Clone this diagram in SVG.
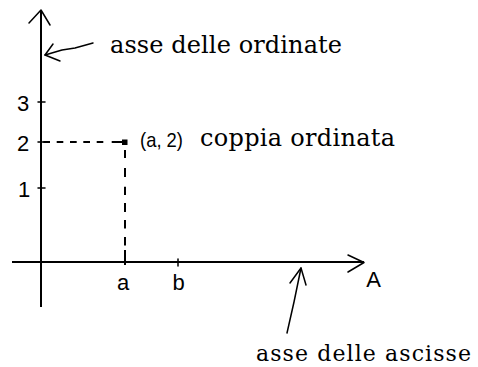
<svg xmlns="http://www.w3.org/2000/svg" width="478" height="367" viewBox="0 0 478 367">
<style>
.ax{stroke:#000;stroke-width:2;fill:none}
.thin{stroke:#000;stroke-width:1.5;fill:none;stroke-linecap:round;stroke-linejoin:round}
.dash{stroke:#000;stroke-width:2;fill:none}
.serif{font-family:"DejaVu Serif","Liberation Serif",serif;font-size:24px;fill:#000}
.sans{font-family:"Liberation Sans","DejaVu Sans",sans-serif;font-size:22px;fill:#000}
.sm{font-size:21px}
.bot{font-size:22px}
</style>
<rect width="478" height="367" fill="#fff"/>
<g id="y-axis">
<line class="ax" x1="41" y1="10" x2="41" y2="307"/>
<polyline class="thin" points="29,23 41,10 50,25"/>
<path class="thin" d="M38 102h7M38 142h7M38 188h7"/>
<text class="sans" x="23" y="111" text-anchor="middle">3</text>
<text class="sans" x="23" y="151" text-anchor="middle">2</text>
<text class="sans" x="24" y="197" text-anchor="middle">1</text>
</g>
<g id="x-axis">
<line class="ax" x1="12" y1="262" x2="364" y2="262"/>
<polyline class="thin" points="348,255 364,262.5 348,272"/>
<line class="thin" x1="178" y1="259" x2="178" y2="266"/>
<text class="sans" x="123" y="290" text-anchor="middle">a</text>
<text class="sans" x="178.5" y="290" text-anchor="middle">b</text>
<text class="sans" x="373.5" y="287" text-anchor="middle">A</text>
</g>
<g id="point">
<path class="dash" d="M43.3 142H50M56.7 142H63.3M70 142H76.7M83.3 142H90M96.7 142H103.3M111.7 142H124"/>
<path class="dash" d="M125 150V158M125 168V177M125 186.7V195M125 203V212M125 220V228.5M125 237V245.5M125 250V265"/>
<rect x="122" y="139.5" width="5.5" height="5.5" fill="#000"/>
<text class="sans sm" x="140" y="147" textLength="43" lengthAdjust="spacingAndGlyphs">(a, 2)</text>
<text class="serif" x="200" y="146" textLength="195" lengthAdjust="spacing">coppia ordinata</text>
</g>
<g id="label-ordinate">
<text class="serif" x="110" y="53" textLength="232" lengthAdjust="spacing">asse delle ordinate</text>
</g>
<g id="label-ascisse">
<text class="serif bot" x="256" y="361" textLength="215" lengthAdjust="spacing">asse delle ascisse</text>
</g>
<g id="connectors">
<path class="thin" d="M45 55L62 50L75 48L93 43"/>
<polyline class="thin" points="53,44 45,55 60,61"/>
<path class="thin" d="M301 268L294 302L287 333"/>
<polyline class="thin" points="290,283 301,268 306,285"/>
</g>
</svg>
